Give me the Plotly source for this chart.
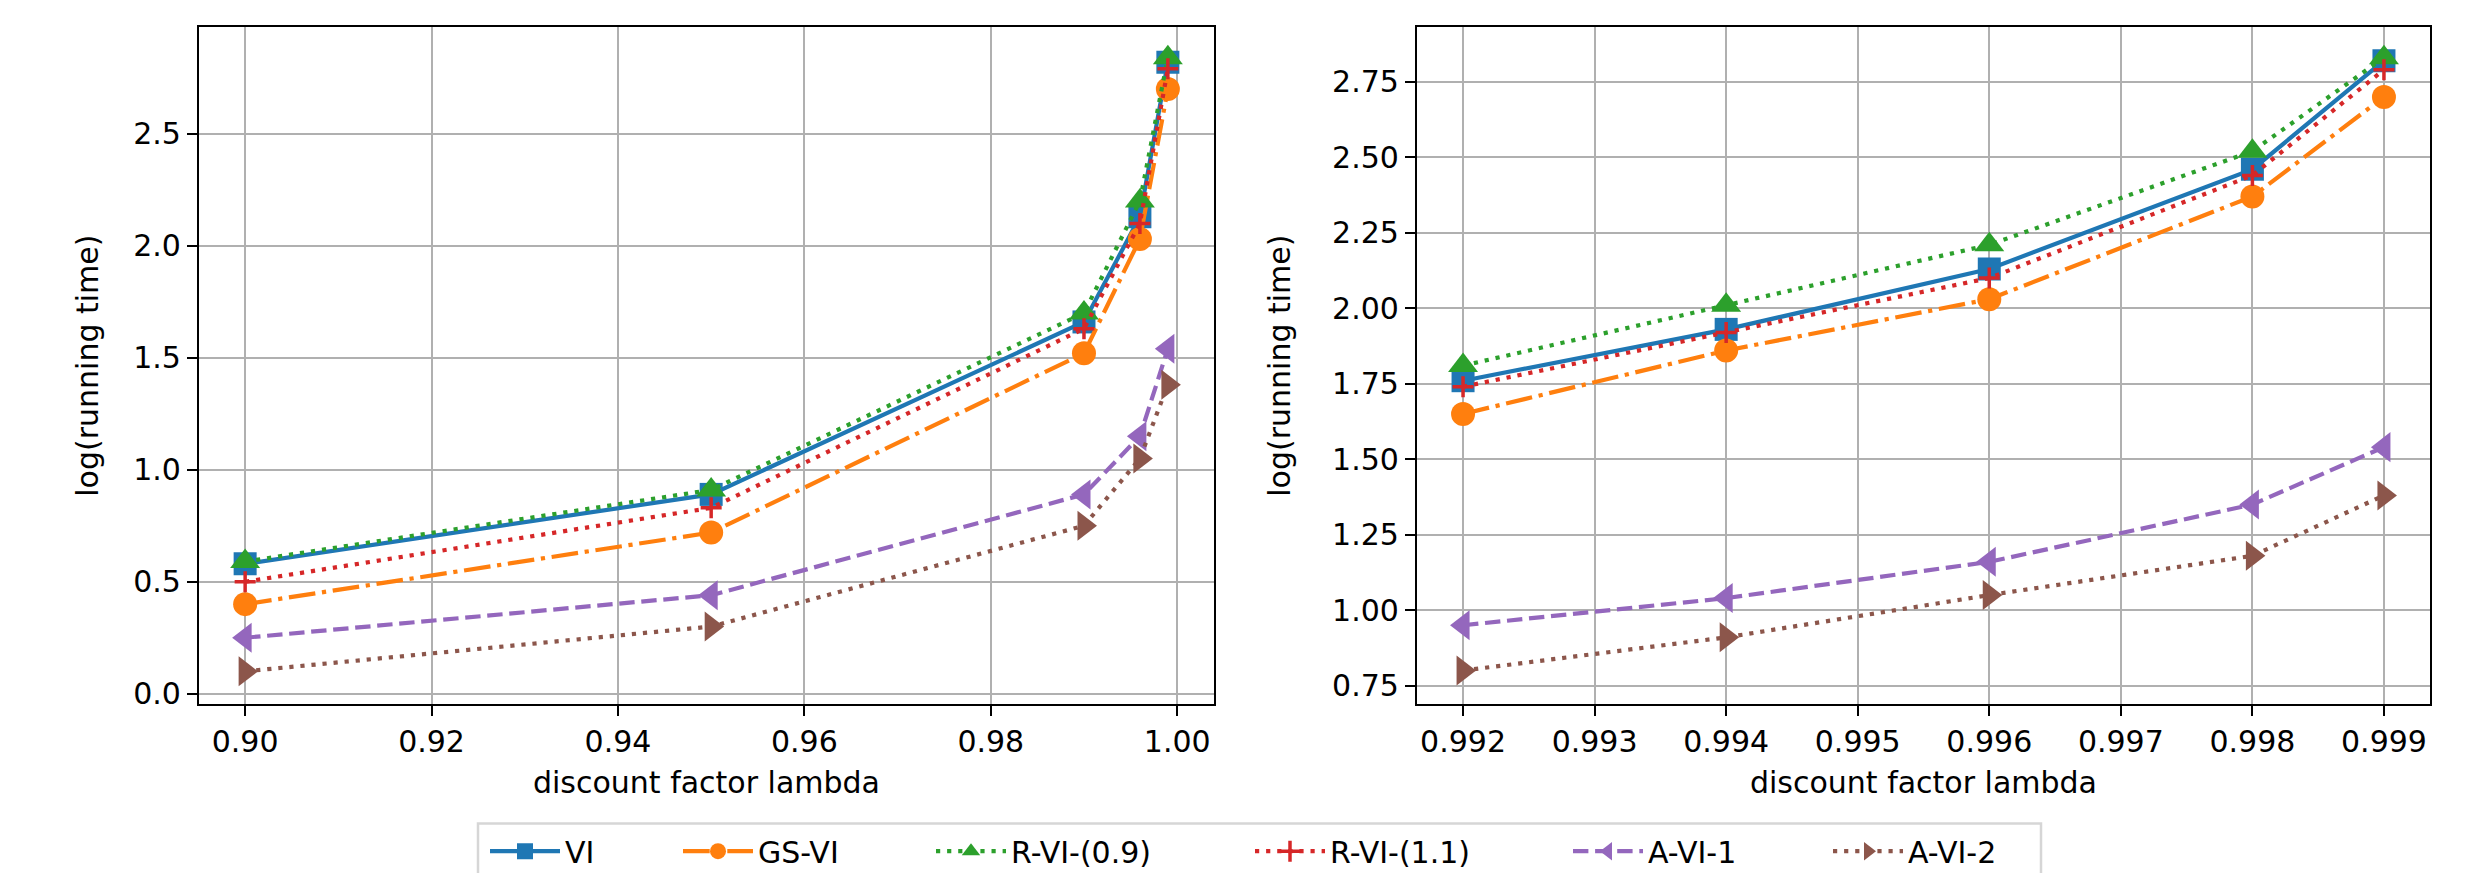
import plotly.graph_objects as go

# ---------------- data ----------------
series_names = ["VI", "GS-VI", "R-VI-(0.9)", "R-VI-(1.1)", "A-VI-1", "A-VI-2"]

x_left = [0.90, 0.95, 0.99, 0.996, 0.999]
vi_left = [0.58, 0.89, 1.66, 2.13, 2.82]
gsvi_left = [0.40, 0.72, 1.52, 2.03, 2.70]
rvi09_left = [0.59, 0.91, 1.70, 2.20, 2.84]
rvi11_left = [0.50, 0.83, 1.63, 2.10, 2.79]
avi1_left = [0.25, 0.44, 0.89, 1.15, 1.54]
avi2_left = [0.10, 0.30, 0.75, 1.05, 1.38]

x_right = [0.992, 0.994, 0.996, 0.998, 0.999]
vi_right = [1.76, 1.93, 2.13, 2.46, 2.82]
gsvi_right = [1.65, 1.86, 2.03, 2.37, 2.70]
rvi09_right = [1.81, 2.01, 2.21, 2.52, 2.83]
rvi11_right = [1.74, 1.92, 2.10, 2.44, 2.79]
avi1_right = [0.95, 1.04, 1.16, 1.35, 1.54]
avi2_right = [0.80, 0.91, 1.05, 1.18, 1.38]

left_ticks = [0.90, 0.92, 0.94, 0.96, 0.98, 1.00]
left_yticks = [0.0, 0.5, 1.0, 1.5, 2.0, 2.5]
right_ticks = [0.992, 0.993, 0.994, 0.995, 0.996, 0.997, 0.998, 0.999]
right_yticks = [0.75, 1.00, 1.25, 1.50, 1.75, 2.00, 2.25, 2.50, 2.75]

x_label = "discount factor lambda"
y_label = "log(running time)"

# ---------------- styles ----------------
colors = ["#1f77b4", "#ff7f0e", "#2ca02c", "#d62728", "#9467bd", "#8c564b"]
LW = 4.2
dashes = [
    "solid",
    "26.7px,6.7px,4.2px,6.7px",
    "4.2px,6.9px",
    "4.2px,6.9px",
    "15.4px,6.7px",
    "4.2px,6.9px",
]
symbols = ["square", "circle", "triangle-up", "cross-thin", "triangle-left", "triangle-right"]
sizes = [23, 24, 26, 15, 26, 26]

left_data = [vi_left, gsvi_left, rvi09_left, rvi11_left, avi1_left, avi2_left]
right_data = [vi_right, gsvi_right, rvi09_right, rvi11_right, avi1_right, avi2_right]

# legend symbol-center positions (pixels) for each entry
legend_px = [497, 690, 943, 1262, 1580, 1840]

W, H = 2472, 873
FONT = "DejaVu Sans"
FS = 30

fig = go.Figure()


def marker_for(i):
    if symbols[i] == "cross-thin":
        return dict(symbol=symbols[i], size=sizes[i], color=colors[i],
                    line=dict(color=colors[i], width=3.5))
    return dict(symbol=symbols[i], size=sizes[i], color=colors[i], line=dict(width=0))


for i, name in enumerate(series_names):
    lg = "legend" if i == 0 else f"legend{i+1}"
    fig.add_trace(go.Scatter(
        x=x_left, y=left_data[i], name=name, mode="lines+markers",
        line=dict(color=colors[i], width=LW, dash=dashes[i]),
        marker=marker_for(i), xaxis="x", yaxis="y",
        legend=lg, showlegend=True,
    ))
for i, name in enumerate(series_names):
    fig.add_trace(go.Scatter(
        x=x_right, y=right_data[i], name=name, mode="lines+markers",
        line=dict(color=colors[i], width=LW, dash=dashes[i]),
        marker=marker_for(i), xaxis="x2", yaxis="y2",
        showlegend=False,
    ))

axis_common = dict(
    showgrid=True, gridcolor="#b0b0b0", gridwidth=2.2,
    showline=True, linecolor="black", linewidth=2.2, mirror=True,
    ticks="outside", ticklen=10, tickwidth=2.2, tickcolor="black",
    zeroline=False,
    tickfont=dict(family=FONT, size=FS, color="black"),
)

y_dom = [1 - 702 / H, 1 - 19 / H]

layout = dict(
    width=W, height=H,
    paper_bgcolor="white", plot_bgcolor="white",
    margin=dict(l=0, r=0, t=0, b=0),
    font=dict(family=FONT, size=FS, color="black"),
    xaxis=dict(axis_common, domain=[191 / W, 1206 / W], range=[0.89505, 1.00395],
               tickvals=left_ticks, tickformat=".2f", anchor="y",
               title=dict(text=x_label, font=dict(family=FONT, size=FS), standoff=14)),
    yaxis=dict(axis_common, domain=y_dom, range=[-0.0475, 2.9775],
               tickvals=left_yticks, tickformat=".1f", anchor="x",
               title=dict(text=y_label, font=dict(family=FONT, size=FS), standoff=26)),
    xaxis2=dict(axis_common, domain=[1409 / W, 2422 / W], range=[0.99165, 0.99935],
                tickvals=right_ticks, tickformat=".3f", anchor="y2",
                title=dict(text=x_label, font=dict(family=FONT, size=FS), standoff=14)),
    yaxis2=dict(axis_common, domain=y_dom, range=[0.688, 2.932],
                tickvals=right_yticks, tickformat=".2f", anchor="x2",
                title=dict(text=y_label, font=dict(family=FONT, size=FS), standoff=33)),
    shapes=[dict(type="rect", xref="paper", yref="paper",
                 x0=470 / W, x1=2033 / W, y0=-0.05, y1=1 - 822 / H,
                 line=dict(color="#d6d6d6", width=2.5), fillcolor="rgba(0,0,0,0)",
                 layer="below")],
)

for i in range(len(series_names)):
    key = "legend" if i == 0 else f"legend{i+1}"
    layout[key] = dict(
        x=(legend_px[i] - 20) / W, y=1 - 850 / H, xanchor="left", yanchor="middle",
        orientation="h", bgcolor="rgba(0,0,0,0)", borderwidth=0,
        itemwidth=70, font=dict(family=FONT, size=FS, color="black"),
        tracegroupgap=0,
    )

fig.update_layout(**layout)
fig.write_html("out.html")
